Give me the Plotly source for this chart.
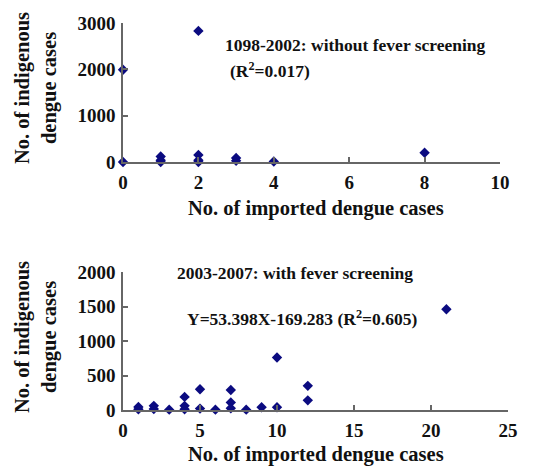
import plotly.graph_objects as go

# Panel 1: 1998-2002 (without fever screening)
imported_a = [0, 0, 1, 1, 1, 2, 2, 2, 2, 3, 3, 4, 8]
indigenous_a = [0, 1990, 120, 40, 0, 2830, 150, 40, 0, 85, 25, 10, 200]

# Panel 2: 2003-2007 (with fever screening)
imported_b = [1, 1, 2, 2, 3, 4, 4, 4, 5, 5, 6, 7, 7, 7, 8, 9, 10, 10, 12, 12, 21]
indigenous_b = [45, 10, 60, 15, 5, 190, 60, 10, 300, 20, 5, 290, 110, 25, 5, 40, 760, 40, 350, 140, 1460]

xticks_a = [0, 2, 4, 6, 8, 10]
yticks_a = [0, 1000, 2000, 3000]
xticks_b = [0, 5, 10, 15, 20, 25]
yticks_b = [0, 500, 1000, 1500, 2000]

FONT = "Liberation Serif"
NAVY = "#0b0b80"
AX = "#666666"

fig = go.Figure()
mk = dict(symbol="diamond", size=8, color=NAVY)
fig.add_trace(go.Scatter(x=imported_a, y=indigenous_a, mode="markers", marker=mk,
                         xaxis="x", yaxis="y", cliponaxis=False, showlegend=False))
fig.add_trace(go.Scatter(x=imported_b, y=indigenous_b, mode="markers", marker=mk,
                         xaxis="x2", yaxis="y2", cliponaxis=False, showlegend=False))

W, H = 539, 466
OFF = 8  # page body margin
def px(x): return (x - OFF) / W
def py(y): return 1 - (y - OFF) / H

axcommon = dict(showgrid=False, zeroline=False, showline=True, linecolor=AX, linewidth=1.5,
                ticks="inside", ticklen=5, tickcolor=AX, tickwidth=1.5, automargin=False,
                ticklabelstandoff=2,
                tickfont=dict(family=FONT, size=19, color="#111", weight="bold"))

fig.update_layout(
    width=W, height=H, margin=dict(l=0, r=0, t=0, b=0, pad=0, autoexpand=False),
    paper_bgcolor="white", plot_bgcolor="white",
    font=dict(family=FONT, color="#111"),
    xaxis=dict(domain=[px(123), px(500)], range=[0, 10], tickvals=xticks_a, anchor="y", **axcommon),
    yaxis=dict(domain=[py(162), py(23)], range=[0, 3000], tickvals=yticks_a, anchor="x", **axcommon),
    xaxis2=dict(domain=[px(123), px(508)], range=[0, 25], tickvals=xticks_b, anchor="y2", **axcommon),
    yaxis2=dict(domain=[py(410), py(272)], range=[0, 2000], tickvals=yticks_b, anchor="x2", **axcommon),
)

def ann(text, x, y, size, angle=0, xanchor="center"):
    fig.add_annotation(text=text, x=px(x), y=py(y), xref="paper", yref="paper",
                       showarrow=False, textangle=angle, xanchor=xanchor, yanchor="middle",
                       font=dict(family=FONT, size=size, color="#111"))

ann("<b>No. of imported dengue cases</b>", 316, 208, 20.5)
ann("<b>No. of imported dengue cases</b>", 316, 454, 20.5)
ann("<b>No. of indigenous<br>dengue cases</b>", 36, 88, 20.5, angle=-90)
ann("<b>No. of indigenous<br>dengue cases</b>", 36, 337, 20.5, angle=-90)
ann("<b>1098-2002: without fever screening</b>", 223, 45, 17.5, xanchor="left")
ann("<b>(R<sup>2</sup>=0.017)</b>", 228, 70, 17.5, xanchor="left")
ann("<b>2003-2007: with fever screening</b>", 175, 273, 17.5, xanchor="left")
ann("<b>Y=53.398X-169.283 (R<sup>2</sup>=0.605)</b>", 185, 318, 17.5, xanchor="left")

fig.write_html("out.html")
